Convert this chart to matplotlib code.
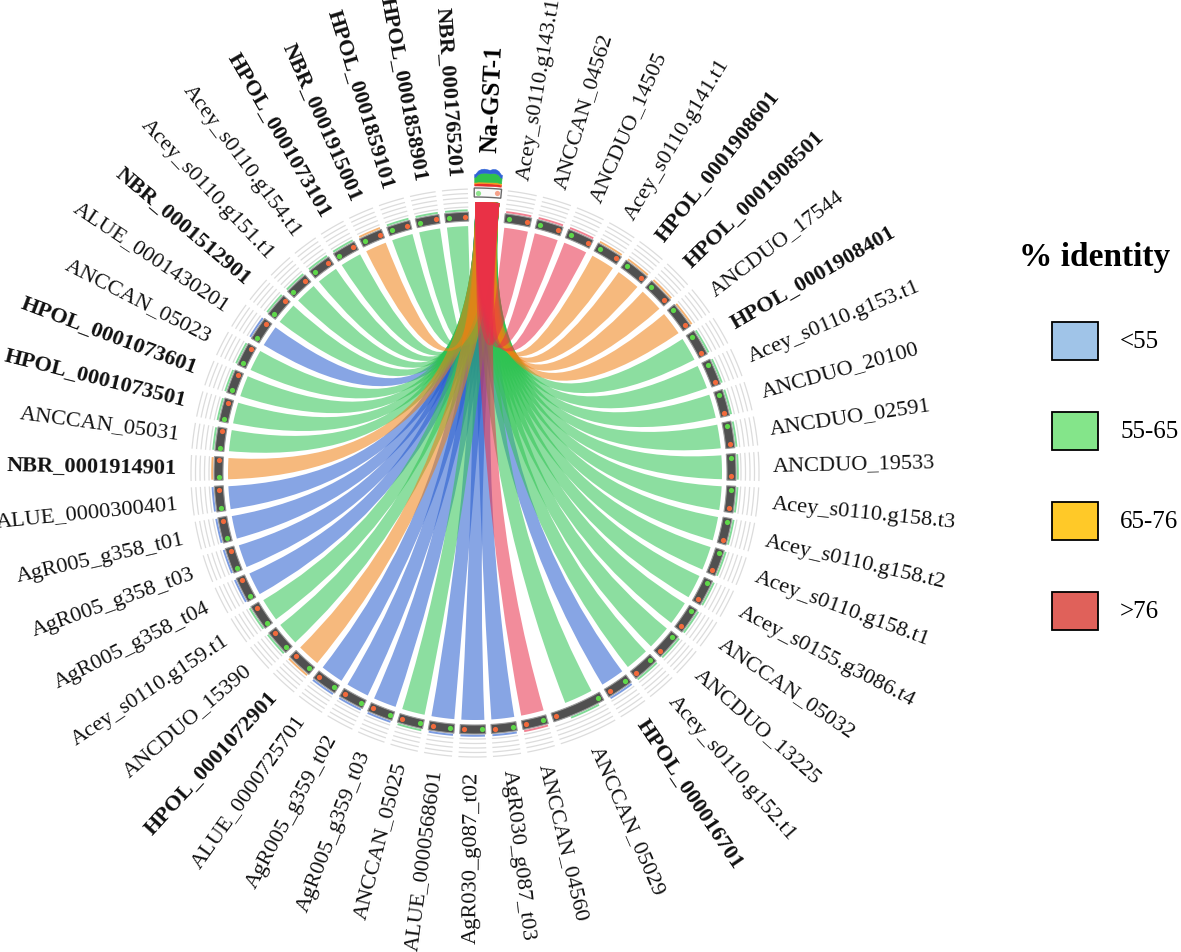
import numpy as np
import matplotlib.pyplot as plt
from matplotlib.path import Path
from matplotlib.patches import PathPatch, Polygon, Rectangle

# ---- data ----
query = 'Na-GST-1'
query_len = 210

targets = [
    'Acey_s0110.g143.t1', 'ANCCAN_04562', 'ANCDUO_14505', 'Acey_s0110.g141.t1',
    'HPOL_0001908601', 'HPOL_0001908501', 'ANCDUO_17544', 'HPOL_0001908401',
    'Acey_s0110.g153.t1', 'ANCDUO_20100', 'ANCDUO_02591', 'ANCDUO_19533',
    'Acey_s0110.g158.t3', 'Acey_s0110.g158.t2', 'Acey_s0110.g158.t1',
    'Acey_s0155.g3086.t4', 'ANCCAN_05032', 'ANCDUO_13225', 'Acey_s0110.g152.t1',
    'HPOL_000016701', 'ANCCAN_05029', 'ANCCAN_04560', 'AgR030_g087_t03',
    'AgR030_g087_t02', 'ALUE_0000568601', 'ANCCAN_05025', 'AgR005_g359_t03',
    'AgR005_g359_t02', 'ALUE_0000725701', 'HPOL_0001072901', 'ANCDUO_15390',
    'Acey_s0110.g159.t1', 'AgR005_g358_t04', 'AgR005_g358_t03', 'AgR005_g358_t01',
    'ALUE_0000300401', 'NBR_0001914901', 'ANCCAN_05031', 'HPOL_0001073501',
    'HPOL_0001073601', 'ANCCAN_05023', 'ALUE_0001430201', 'NBR_0001512901',
    'Acey_s0110.g151.t1', 'Acey_s0110.g154.t1', 'HPOL_0001073101',
    'NBR_0001915001', 'HPOL_0001859101', 'HPOL_0001858901', 'NBR_0001765201',
]

target_len = [225] * 20 + [457] + [217] * 15 + [200] * 14

# identity class index: 0 '<55', 1 '55-65', 2 '65-76', 3 '>76'
identity = [3, 3, 3, 2, 2, 2, 2, 1, 1, 1,
            1, 1, 1, 1, 1, 1, 1, 1, 1, 0,
            1, 3, 0, 0, 0, 1, 0, 0, 0, 2,
            1, 1, 0, 0, 0, 0, 2, 1, 1, 1,
            1, 0, 1, 1, 1, 1, 2, 1, 1, 1]

# part of each target covered by the alignment (fraction of its length)
aln_start = [0.03] * 20 + [0.12] + [0.03] * 29
aln_end = [0.97] * 20 + [0.68] + [0.97] * 29

legend_labels = ['<55', '55-65', '65-76', '>76']
legend_colors = ['#a0c4e8', '#84e58a', '#ffc928', '#e0615a']
ribbon_colors = ['#255bce', '#2ec352', '#ef8013', '#e92e49']

# stacked coverage track on top of the query (bins along the query)
stack_red = [2, 2.5, 2.5, 2.5, 2.5, 2.5, 2.5, 2.5, 2.5, 2]
stack_orange = [1.5, 1.5, 1.5, 1.5, 1.5, 1.5, 1.5, 1.5, 1.5, 1.5]
stack_green = [5, 7.5, 8.5, 9, 9, 8.5, 9, 9, 8, 5.5]
stack_blue = [3, 3.5, 4, 4, 3.5, 3.5, 4, 4, 3.5, 3]
stack_colors = ['#e8312b', '#f39a1e', '#30c24c', '#2f63d6']

# ---- layout ----
CX, CY = 475, 474
R_RIB, R_BAR0, R_BAR1 = 247, 252, 261
R_QRIB, R_QBAR0, R_QBAR1, R_STACK = 271, 276, 285, 287
R_LABEL = 298
GAP = 1.285
QUERY_CENTER = 2.6

fig = plt.figure(figsize=(11.81, 9.53), dpi=100)
ax = fig.add_axes([0, 0, 1, 1])
ax.set_xlim(0, 1181)
ax.set_ylim(953, 0)
ax.set_aspect('equal')
ax.axis('off')


def pol(theta, r):
    t = np.radians(theta)
    return CX + r * np.sin(t), CY - r * np.cos(t)


def sector(t0, t1, r0, r1, **kw):
    ts = np.linspace(t0, t1, 30)
    xo, yo = pol(ts, r1)
    xi, yi = pol(ts[::-1], r0)
    pts = np.column_stack([np.r_[xo, xi], np.r_[yo, yi]])
    ax.add_patch(Polygon(pts, closed=True, **kw))


def arc_line(t0, t1, r, **kw):
    ts = np.linspace(t0, t1, 30)
    x, y = pol(ts, r)
    ax.plot(x, y, solid_capstyle='butt', **kw)


lens = [query_len] + target_len
k = (360 - GAP * len(lens)) / sum(lens)
starts, ends = [], []
pos = QUERY_CENTER - query_len * k / 2
for L in lens:
    starts.append(pos)
    ends.append(pos + L * k)
    pos += L * k + GAP

q0, q1 = starts[0], ends[0]

# ribbons: blue first, red on top
for cls in range(4):
    for i, name in enumerate(targets):
        if identity[i] != cls:
            continue
        s, e = starts[i + 1], ends[i + 1]
        b0 = s + (e - s) * aln_start[i]
        b1 = s + (e - s) * aln_end[i]
        a0, a1 = q0 + 0.2, q1 - 0.2
        ta = np.linspace(a0, a1, 12)
        tb = np.linspace(b0, b1, 30)
        xa, ya = pol(ta, R_QRIB)
        xb, yb = pol(tb, R_RIB)
        verts = [(xa[0], ya[0])] + list(zip(xa[1:], ya[1:]))
        codes = [Path.MOVETO] + [Path.LINETO] * (len(ta) - 1)
        verts += [(CX, CY), (xb[0], yb[0])]
        codes += [Path.CURVE3, Path.CURVE3]
        verts += list(zip(xb[1:], yb[1:]))
        codes += [Path.LINETO] * (len(tb) - 1)
        verts += [(CX, CY), (xa[0], ya[0])]
        codes += [Path.CURVE3, Path.CURVE3]
        ax.add_patch(PathPatch(Path(verts, codes), facecolor=ribbon_colors[cls],
                               alpha=0.55, lw=0, zorder=2))

# target segments
for i, name in enumerate(targets):
    s, e = starts[i + 1], ends[i + 1]
    for j in range(5):
        arc_line(s, e, 266 + 4.5 * j, color='#dcdcdc', lw=0.9, zorder=1)
    sector(s, e, R_BAR0, R_BAR1, facecolor='#505050', edgecolor='#9a9a9a', lw=0.8, zorder=3)
    b0 = s + (e - s) * aln_start[i]
    b1 = s + (e - s) * aln_end[i]
    arc_line(b0, b1, 262.8, color=ribbon_colors[identity[i]], lw=1.4, alpha=0.6, zorder=3)
    dw = min(0.9, (e - s) * 0.15)
    gx, gy = pol(s + dw, (R_BAR0 + R_BAR1) / 2)
    rx, ry = pol(e - dw, (R_BAR0 + R_BAR1) / 2)
    ax.scatter([gx], [gy], s=14, color='#5fd84a', zorder=4, lw=0)
    ax.scatter([rx], [ry], s=14, color='#f26a3c', zorder=4, lw=0)

    mid = (s + e) / 2
    lx, ly = pol(mid, R_LABEL)
    bold = name.startswith('HPOL') or name.startswith('NBR')
    if mid < 180:
        rot, ha = 90 - mid, 'left'
    else:
        rot, ha = 270 - mid, 'right'
    ax.text(lx, ly, name, rotation=rot, ha=ha, va='center', rotation_mode='anchor',
            fontsize=16.1, family='Liberation Serif',
            fontweight='bold' if bold else 'normal', color='#111111')

# query segment
sector(q0, q1, R_QBAR0, R_QBAR1, facecolor='#fafafa', edgecolor='#6a6a6a', lw=1.0, zorder=3)
gx, gy = pol(q0 + 0.8, (R_QBAR0 + R_QBAR1) / 2)
rx, ry = pol(q1 - 0.8, (R_QBAR0 + R_QBAR1) / 2)
ax.scatter([gx], [gy], s=14, color='#8fe38c', zorder=4, lw=0)
ax.scatter([rx], [ry], s=14, color='#f5a189', zorder=4, lw=0)

nb = len(stack_red)
centers = q0 + (np.arange(nb) + 0.5) * (q1 - q0) / nb
ts = np.linspace(q0 + 0.1, q1 - 0.1, 60)
bottom = np.full(ts.size, float(R_STACK))
for layer, col in zip([stack_red, stack_orange, stack_green, stack_blue], stack_colors):
    top = bottom + np.interp(ts, centers, layer)
    xo, yo = pol(ts, top)
    xi, yi = pol(ts[::-1], bottom[::-1])
    ax.add_patch(Polygon(np.column_stack([np.r_[xo, xi], np.r_[yo, yi]]),
                         closed=True, facecolor=col, edgecolor=col, lw=0.4, zorder=3))
    bottom = top

qmid = (q0 + q1) / 2
lx, ly = pol(qmid, 322)
ax.text(lx, ly, query, rotation=90 - qmid, ha='left', va='center',
        rotation_mode='anchor', fontsize=18, family='Liberation Serif', fontweight='bold')

# legend
ax.text(1095, 258, '% identity', ha='center', va='center', fontsize=24,
        family='Liberation Serif', fontweight='bold')
for i, (lab, col) in enumerate(zip(legend_labels, legend_colors)):
    yc = 342 + 90 * i
    ax.add_patch(Rectangle((1052, yc - 19), 46, 38, facecolor=col, edgecolor='black', lw=1.3))
    ax.text(1120, yc, lab, ha='left', va='center', fontsize=18, family='Liberation Serif')

fig.savefig('out.png', dpi=100)
